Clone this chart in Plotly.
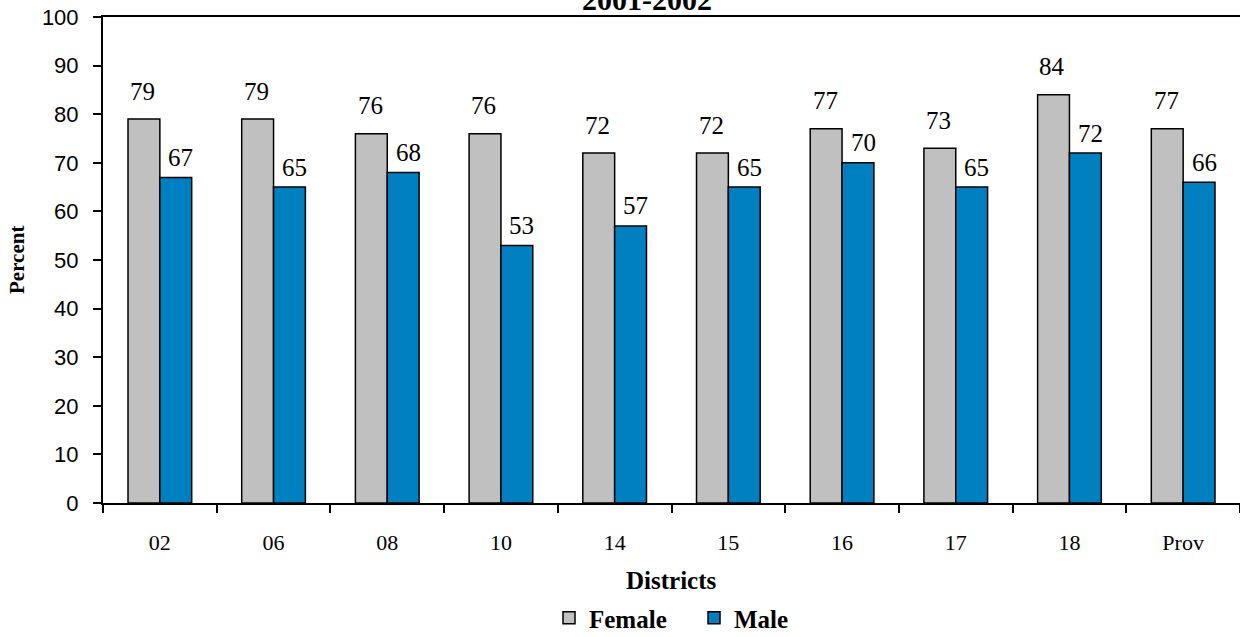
import plotly.graph_objects as go

districts = ["02", "06", "08", "10", "14", "15", "16", "17", "18", "Prov"]
female = [79, 79, 76, 76, 72, 72, 77, 73, 84, 77]
male = [67, 65, 68, 53, 57, 65, 70, 65, 72, 66]

W, H = 1240, 637
ML, MR, MT, MB = 103, 0, 17, 134
plot_h = H - MT - MB
plot_w = W - ML - MR

serif = "Liberation Serif, Times New Roman, serif"
sans = "Liberation Sans, Arial, sans-serif"

fig = go.Figure()
fig.add_trace(go.Bar(name="Female", x=districts, y=female,
                     marker=dict(color="#C0C0C0", line=dict(color="black", width=1.5))))
fig.add_trace(go.Bar(name="Male", x=districts, y=male,
                     marker=dict(color="#0080C0", line=dict(color="black", width=1.5))))

annotations = []
# value labels above each bar (x given as category index)
for i, d in enumerate(districts):
    annotations.append(dict(x=i, y=female[i], xref="x", yref="y", text=str(female[i]),
                            showarrow=False, yanchor="middle", xshift=-17, yshift=28,
                            font=dict(family=serif, size=25, color="black")))
    annotations.append(dict(x=i, y=male[i], xref="x", yref="y", text=str(male[i]),
                            showarrow=False, yanchor="middle", xshift=21, yshift=20,
                            font=dict(family=serif, size=25, color="black")))

annotations.append(dict(text="<b>2001-2002</b>", xref="paper", yref="paper",
                        x=(647 - ML) / plot_w, y=(H - MB + 1) / plot_h,
                        showarrow=False, yanchor="middle", xanchor="center",
                        font=dict(family=serif, size=30, color="black")))
annotations.append(dict(text="<b>Districts</b>", xref="paper", yref="paper",
                        x=0.5, y=-(580 - (H - MB)) / plot_h,
                        showarrow=False, yanchor="middle", xanchor="center",
                        font=dict(family=serif, size=25, color="black")))
annotations.append(dict(text="<b>Percent</b>", xref="paper", yref="paper",
                        x=(17 - ML) / plot_w, y=0.5, textangle=-90,
                        showarrow=False, yanchor="middle", xanchor="center",
                        font=dict(family=serif, size=21, color="black")))

fig.update_layout(
    width=W, height=H,
    margin=dict(l=ML, r=MR, t=MT, b=MB, autoexpand=False),
    paper_bgcolor="white", plot_bgcolor="white",
    barmode="group", bargap=0.44, bargroupgap=0,
    showlegend=True,
    legend=dict(orientation="h", x=(549 - ML) / plot_w, xanchor="left",
                y=-(618 - (H - MB)) / plot_h, yanchor="middle",
                font=dict(family=serif, size=25, color="black", weight="bold"),
                itemwidth=30, entrywidth=100, entrywidthmode="pixels",
                tracegroupgap=0, bgcolor="rgba(0,0,0,0)"),
    annotations=annotations,
    xaxis=dict(type="category", range=[-0.5, len(districts) - 0.5],
               showline=True, linecolor="black", linewidth=2,
               mirror=True, ticks="outside", tickson="boundaries", ticklen=8,
               tickwidth=1.5, tickcolor="black", showgrid=False,
               tickfont=dict(family=serif, size=22, color="black"),
               ticklabelstandoff=19),
    yaxis=dict(range=[0, 100], dtick=10, showline=True, linecolor="black", linewidth=2,
               ticks="outside", ticklen=8, tickwidth=1.5, tickcolor="black",
               showgrid=False, zeroline=False,
               tickfont=dict(family=sans, size=22, color="black"),
               ticklabelstandoff=10),
)

fig.write_html("out.html")
